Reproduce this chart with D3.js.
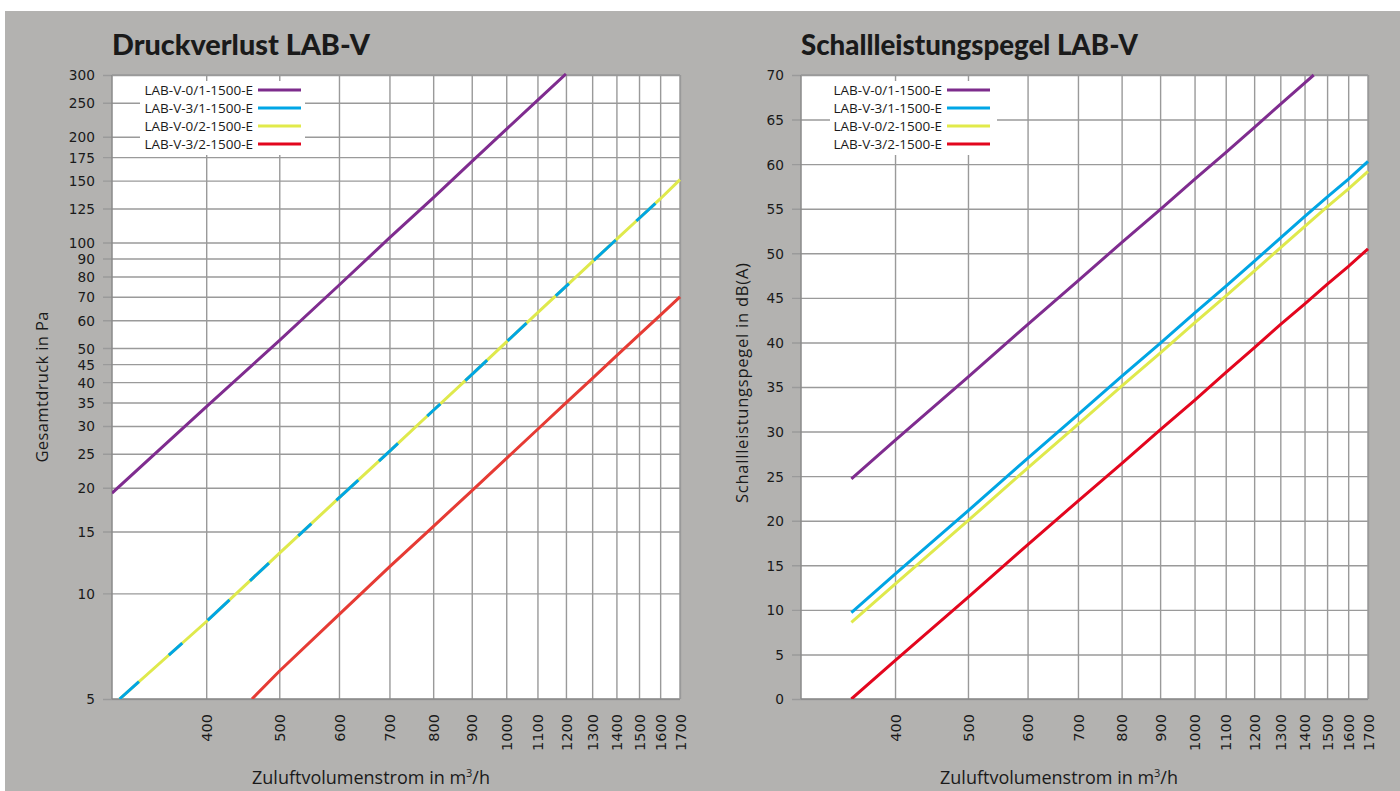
<!DOCTYPE html>
<html><head><meta charset="utf-8">
<script src="https://cdn.jsdelivr.net/npm/d3@7"></script>
<style>
html,body{margin:0;padding:0;background:#fff;}
svg{display:block;}
text{font-family:"Open Sans",sans-serif;fill:#1a1a1a;}
</style></head>
<body>
<script>
// ---------- DATA ----------
const seriesNames = ["LAB-V-0/1-1500-E","LAB-V-3/1-1500-E","LAB-V-0/2-1500-E","LAB-V-3/2-1500-E"];
const flowTicks = [400,500,600,700,800,900,1000,1100,1200,1300,1400,1500,1600,1700];
const pressureTicks = [5,10,15,20,25,30,35,40,45,50,60,70,80,90,100,125,150,175,200,250,300];
const soundTicks = [0,5,10,15,20,25,30,35,40,45,50,55,60,65,70];

// Druckverlust (Pa)
const dpFlow01 = [300,400,500,600,700,800,900,1000,1100,1200];
const dp01     = [19.3,34,52.5,75.5,103,134,170,210,254,302];
const dpFlow31 = [307,400,500,600,700,800,900,1000,1100,1200,1300,1400,1500,1600,1700];
const dp31     = [5,8.3,13,18.7,25.4,33.2,42,52,63,75,88,102,117,133,151];
const dpFlow02 = [307,400,500,600,700,800,900,1000,1100,1200,1300,1400,1500,1600,1700];
const dp02     = [5,8.3,13,18.7,25.4,33.2,42,52,63,75,88,102,117,133,151];
const dpFlow32 = [460,500,600,700,800,900,1000,1100,1200,1300,1400,1500,1600,1700];
const dp32     = [5,6.0,8.7,11.9,15.5,19.6,24.2,29.3,34.9,40.9,47.5,54.5,62,70];

// Schallleistungspegel dB(A)
const lwFlow01 = [350,400,500,600,700,800,900,1000,1100,1200,1300,1400,1440];
const lw01     = [24.7,29,36.1,42,46.9,51.2,54.9,58.3,61.3,64.1,66.7,69.1,70];
const lwFlow   = [350,400,500,600,700,800,900,1000,1100,1200,1300,1400,1500,1600,1700];
const lw31     = [9.7,14,21.1,27,31.9,36.2,39.9,43.3,46.3,49.1,51.7,54.1,56.3,58.3,60.3];
const lw02     = [8.6,12.9,20,25.9,30.8,35.1,38.8,42.2,45.2,48,50.6,53,55.2,57.2,59.2];
const lw32     = [0,4.3,11.4,17.3,22.2,26.4,30.2,33.5,36.6,39.4,42,44.3,46.5,48.5,50.5];

const legendColors = ["#7d2c8c","#00a6e6","#e1ea4a","#e2061d"];

// ---------- DRAW ----------
const W = 1400, H = 791;
const svg = d3.select("body").append("svg").attr("width", W).attr("height", H);
svg.append("rect").attr("x",5).attr("y",11).attr("width",W-5).attr("height",H-11).attr("fill","#b3b2b0");

function zip(xs, ys){ return xs.map((x,i)=>[x, ys[i]]); }

const tickFont = "'DejaVu Sans', sans-serif";
const tickSize = "13.7px";

function panel(cfg){
  const g = svg.append("g");
  const x = d3.scaleLog().domain([300,1700]).range([cfg.x0, cfg.x1]);
  const y = cfg.y;
  const top = 75, bottom = 699;
  g.append("rect").attr("x",cfg.x0).attr("y",top).attr("width",cfg.x1-cfg.x0).attr("height",bottom-top).attr("fill","#fff");

  // horizontal grid + ticks
  const yAxis = d3.axisLeft(y).tickValues(cfg.yTicks).tickSize(-(cfg.x1-cfg.x0)).tickPadding(0).tickFormat(d3.format("d"));
  const ya = g.append("g").attr("transform",`translate(${cfg.x0},0)`).call(yAxis);
  ya.select(".domain").remove();
  ya.selectAll(".tick line").attr("stroke","#9a9a9a").attr("stroke-width",1.4).attr("x2", cfg.x1-cfg.x0).attr("x1",-9);
  ya.selectAll(".tick text").attr("x",-17).attr("dy","0.36em").style("font-size",tickSize).style("font-family",tickFont).attr("fill","#1a1a1a");

  // vertical grid
  const xAxis = d3.axisBottom(x).tickValues(flowTicks).tickSize(-(bottom-top)).tickFormat(d3.format("d"));
  const xa = g.append("g").attr("transform",`translate(0,${bottom})`).call(xAxis);
  xa.select(".domain").remove();
  xa.selectAll(".tick line").attr("stroke","#9a9a9a").attr("stroke-width",1.4);
  xa.selectAll(".tick text")
    .attr("transform","rotate(-90)")
    .attr("x",-15).attr("y",0).attr("dy","0.36em")
    .attr("text-anchor","end")
    .style("font-size","14.5px").style("font-family",tickFont).attr("fill","#1a1a1a");

  // frame lines
  g.append("line").attr("x1",cfg.x0).attr("x2",cfg.x0).attr("y1",top).attr("y2",bottom).attr("stroke","#8a8a8a").attr("stroke-width",1.5);
  g.append("line").attr("x1",cfg.x0).attr("x2",cfg.x1).attr("y1",bottom).attr("y2",bottom).attr("stroke","#8a8a8a").attr("stroke-width",1.5);
  g.append("line").attr("x1",cfg.x1).attr("x2",cfg.x1).attr("y1",top).attr("y2",bottom).attr("stroke","#9a9a9a").attr("stroke-width",1.4);
  g.append("line").attr("x1",cfg.x0).attr("x2",cfg.x1).attr("y1",top).attr("y2",top).attr("stroke","#9a9a9a").attr("stroke-width",1.4);

  // legend box
  const lg = g.append("g");
  lg.append("rect").attr("x",cfg.legX).attr("y",81).attr("width",cfg.legW).attr("height",74).attr("fill","#fff");
  seriesNames.forEach((n,i)=>{
    const yy = 90 + i*18;
    lg.append("text").attr("x",cfg.legTextEnd).attr("y",yy).attr("dy","0.35em").attr("text-anchor","end")
      .style("font-size","13.5px").text(n);
    lg.append("line").attr("x1",cfg.legTextEnd+5).attr("x2",cfg.legTextEnd+48).attr("y1",yy).attr("y2",yy)
      .attr("stroke",legendColors[i]).attr("stroke-width",3);
  });

  // lines
  const clip = "clip"+cfg.id;
  g.append("clipPath").attr("id",clip).append("rect").attr("x",cfg.x0).attr("y",top-2).attr("width",cfg.x1-cfg.x0+2).attr("height",bottom-top+2);
  const line = d3.line().x(d=>x(d[0])).y(d=>y(d[1]));
  const lines = g.append("g").attr("clip-path",`url(#${clip})`);
  cfg.series.forEach(s=>{
    lines.append("path").attr("d",line(s.pts)).attr("fill","none").attr("stroke",s.color)
      .attr("stroke-width",3).attr("stroke-dasharray",s.dash||null);
  });

  // titles
  g.append("text").attr("x",cfg.x0).attr("y",55).style("font-size","29px").style("font-weight","900")
    .style("font-family","Lato, 'Open Sans', sans-serif")
    .attr("textLength",cfg.titleLen).attr("lengthAdjust","spacingAndGlyphs")
    .attr("fill","#141414").text(cfg.title);
  g.append("text").attr("transform",`translate(${cfg.yTitleX},${cfg.yTitleY}) rotate(-90)`).attr("text-anchor","middle")
    .attr("dy","0.35em").style("font-size","16.5px")
    .attr("textLength",cfg.yTitleLen).attr("lengthAdjust","spacing").text(cfg.yTitle);
  const xt = g.append("text").attr("x",cfg.xTitleX).attr("y",784).attr("text-anchor","middle").style("font-size","18px");
  xt.append("tspan").text("Zuluftvolumenstrom in m");
  xt.append("tspan").attr("dy",-7).style("font-size","11px").text("3");
  xt.append("tspan").attr("dy",7).text("/h");
}

panel({
  id:"L", x0:112, x1:680,
  y: d3.scaleLog().domain([5,300]).range([699,75]),
  yTicks: pressureTicks,
  legX:140, legW:165, legTextEnd:253,
  title:"Druckverlust LAB-V", titleLen:258,
  yTitle:"Gesamtdruck in Pa", yTitleX:42, yTitleY:387, yTitleLen:151,
  xTitleX:371,
  series:[
    {pts:zip(dpFlow01,dp01), color:"#7f2c8f"},
    {pts:zip(dpFlow02,dp02), color:"#dfe94c"},
    {pts:zip(dpFlow31,dp31), color:"#00a5e4", dash:"26,40,18,34,30,28"},
    {pts:zip(dpFlow32,dp32), color:"#e63b34"}
  ]
});

panel({
  id:"R", x0:801, x1:1368,
  y: d3.scaleLinear().domain([0,70]).range([699,75]),
  yTicks: soundTicks,
  legX:830, legW:167, legTextEnd:942,
  title:"Schallleistungspegel LAB-V", titleLen:337,
  yTitle:"Schallleistungspegel in dB(A)", yTitleX:742, yTitleY:383, yTitleLen:240,
  xTitleX:1059,
  series:[
    {pts:zip(lwFlow01,lw01), color:"#7f2c8f"},
    {pts:zip(lwFlow,lw31), color:"#00a5e4"},
    {pts:zip(lwFlow,lw02), color:"#dfe94c"},
    {pts:zip(lwFlow,lw32), color:"#e3061e"}
  ]
});
</script>
</body></html>
